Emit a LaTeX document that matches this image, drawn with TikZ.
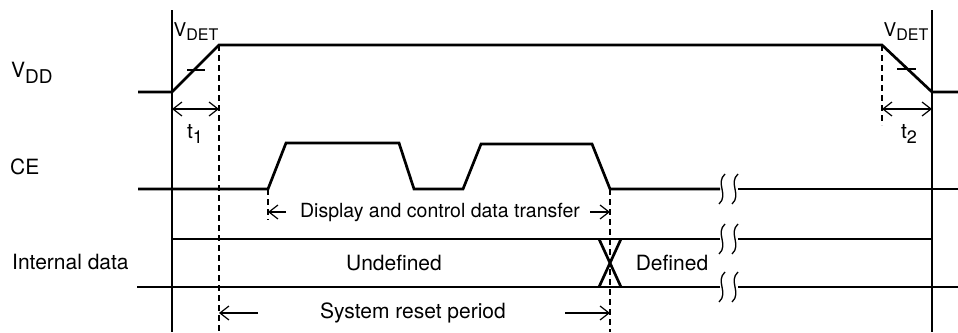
\documentclass[tikz,border=0pt]{standalone}
\usepackage{fontspec}
\setmainfont{TeX Gyre Heros}
\usetikzlibrary{arrows.meta}
\tikzset{
  sig/.style={line width=2.7pt, line join=miter},
  frame/.style={line width=1.2pt},
  dsh/.style={line width=1.2pt, dash pattern=on 6pt off 4pt},
  dim/.style={line width=1.2pt, {Straight Barb[length=9pt,width=14pt,line width=1.2pt]}-{Straight Barb[length=9pt,width=14pt,line width=1.2pt]}},
  dimr/.style={line width=1.2pt, -{Straight Barb[length=9pt,width=14pt,line width=1.2pt]}},
  lbl/.style={inner sep=0pt, font=\fontsize{21pt}{23pt}\selectfont},
  brk/.style={line width=1.3pt},
}
\newcommand\mybreak[2]{%
  \draw[brk] (#1+3,#2-15) .. controls (#1-7,#2-6) and (#1+7,#2+6) .. (#1-3,#2+15);
  \draw[brk] (#1+16,#2-15) .. controls (#1+6,#2-6) and (#1+20,#2+6) .. (#1+10,#2+15);
}
\begin{document}
\begin{tikzpicture}[x=1pt,y=-1pt]
\useasboundingbox (0,0) rectangle (958,332);
% frame lines
\coordinate (Ltop) at (172,10); \coordinate (Lbot) at (172,332);
\coordinate (Rtop) at (932,10); \coordinate (Rbot) at (932,332);
\draw[frame] (Ltop) -- (Lbot);
\draw[frame] (Rtop) -- (Rbot);
% VDD
\coordinate (v0) at (138,92); \coordinate (v1) at (172,92);
\coordinate (v2) at (219,45); \coordinate (v3) at (882,45);
\coordinate (v4) at (932,92); \coordinate (v5) at (958,92);
\draw[sig] (v0) -- (v1) -- (v2) -- (v3) -- (v4) -- (v5);
% ticks on slopes
\coordinate (k1a) at (187,70); \coordinate (k1b) at (205,70);
\coordinate (k2a) at (897,69); \coordinate (k2b) at (916,69);
\draw[sig] (k1a) -- (k1b);
\draw[sig] (k2a) -- (k2b);
% dashed verticals
\coordinate (d1b) at (219,332);
\coordinate (d2b) at (882,125);
\coordinate (d3a) at (268,189); \coordinate (d3b) at (268,220);
\coordinate (d4a) at (610,189); \coordinate (d4b) at (610,332);
\draw[dsh] (v2) -- (d1b);
\draw[dsh] (v3) -- (d2b);
\draw[dsh] (d3a) -- (d3b);
\draw[dsh] (d4a) -- (d4b);
% t1, t2
\coordinate (t1a) at (172,109); \coordinate (t1b) at (219,109);
\coordinate (t2a) at (882,109); \coordinate (t2b) at (932,109);
\draw[dim] (t1a) -- (t1b);
\draw[dim] (t2a) -- (t2b);
\node[lbl] (t1) at (195,134) {t\raisebox{-5pt}{\fontsize{18pt}{19pt}\selectfont 1}};
\node[lbl] (t2) at (909,134) {t\raisebox{-5pt}{\fontsize{18pt}{19pt}\selectfont 2}};
% VDET
\node[lbl, font=\fontsize{19pt}{20pt}\selectfont] (vdet1) at (196,32) {V\raisebox{-4pt}{\fontsize{16pt}{17pt}\selectfont DET}};
\node[lbl, font=\fontsize{19pt}{20pt}\selectfont] (vdet2) at (906,32) {V\raisebox{-4pt}{\fontsize{16pt}{17pt}\selectfont DET}};
% CE
\coordinate (c0) at (138,189); \coordinate (c1) at (268,189);
\coordinate (c2) at (286,143); \coordinate (c3) at (399,143);
\coordinate (c4) at (414,189); \coordinate (c5) at (463,189);
\coordinate (c6) at (481,144); \coordinate (c7) at (592,144);
\coordinate (c8) at (610,189); \coordinate (c9) at (720,189);
\coordinate (c10) at (738,189); \coordinate (c11) at (958,189);
\draw[sig] (c0) -- (c1) -- (c2) -- (c3) -- (c4) -- (c5) -- (c6) -- (c7) -- (c8) -- (c9);
\draw[sig] (c10) -- (c11);
\mybreak{722}{189}
% Internal data
\coordinate (ia0) at (172,239); \coordinate (ia1) at (720,239);
\coordinate (ia2) at (738,239); \coordinate (ia3) at (932,239);
\coordinate (ib0) at (137,287); \coordinate (ib1) at (720,287);
\coordinate (ib2) at (738,287); \coordinate (ib3) at (958,287);
\draw[sig] (ia0) -- (ia1); \draw[sig] (ia2) -- (ia3);
\draw[sig] (ib0) -- (ib1); \draw[sig] (ib2) -- (ib3);
\mybreak{722}{239}
\mybreak{722}{287}
\coordinate (x1) at (599,239); \coordinate (x2) at (621,287);
\coordinate (x3) at (621,239); \coordinate (x4) at (599,287);
\draw[sig] (x1) -- (x2);
\draw[sig] (x3) -- (x4);
% labels
\node[lbl, anchor=west] (vdd) at (11,73) {V\raisebox{-6pt}{\fontsize{19pt}{20pt}\selectfont DD}};
\node[lbl, anchor=west] (ce) at (10,167) {CE};
\node[lbl, anchor=west] (idata) at (12,262) {Internal data};
\node[lbl] (undef) at (394,263) {Undefined};
\node[lbl] (def) at (672,263) {Defined};
% Display arrow
\node[lbl, font=\fontsize{19.5pt}{21pt}\selectfont] (disp) at (440,212) {Display and control data transfer};
\coordinate (da) at (268,212); \coordinate (db) at (610,212);
\coordinate (dl) at (286,212); \coordinate (dr) at (590,212);
\draw[dimr] (dl) -- (da);
\draw[dimr] (dr) -- (db);
% System reset arrow
\node[lbl] (sys) at (413,313) {System reset period};
\coordinate (sa) at (219,313); \coordinate (sb) at (610,313);
\coordinate (sl) at (258,313); \coordinate (sr) at (565,313);
\draw[dimr] (sl) -- (sa);
\draw[dimr] (sr) -- (sb);
\end{tikzpicture}
\end{document}
